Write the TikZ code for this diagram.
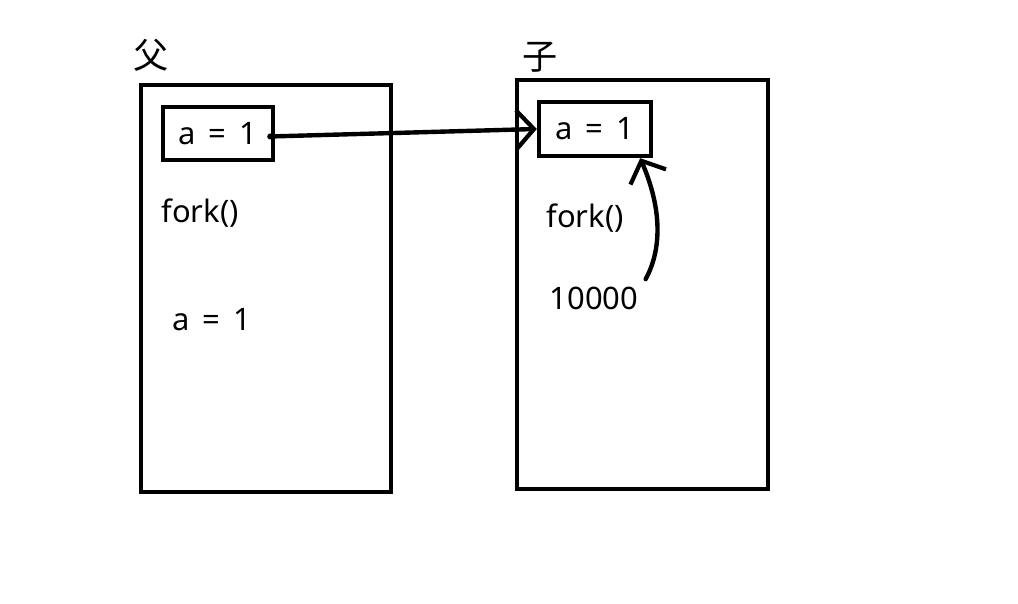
\documentclass[tikz,border=0pt]{standalone}
\usepackage{fontspec}
\setmainfont{Noto Sans}
\newfontfamily\cjk{Noto Sans CJK SC}
\usetikzlibrary{arrows.meta, positioning}

\newcommand{\eqsp}{\hspace{0.42em}}

\begin{document}
\begin{tikzpicture}[
    every node/.style={font=\fontsize{8.8pt}{10pt}\selectfont},
    proc/.style={rectangle, draw=black, line width=1.25pt, minimum width=2.5cm, minimum height=4.07cm, inner sep=0pt},
    var/.style={rectangle, draw=black, line width=1.25pt, minimum width=1.1cm, minimum height=0.53cm, inner sep=0pt},
    arrow/.style={-{Straight Barb[length=5pt, width=11pt, line width=1.2pt]}, line width=1.25pt, line cap=round}
]
\useasboundingbox (0,0) rectangle (10.18,6.04);

% parent
\node[proc] (parent) at (2.66,3.155) {};
\node[var] (pa) at (2.18,4.705) {a\eqsp=\eqsp1};
\node (pfork) at (2.00,3.91) {fork()};
\node (pa2) at (2.12,2.84) {a\eqsp=\eqsp1};
\node[font=\cjk\fontsize{10pt}{12pt}\selectfont] (ptitle) at (1.51,5.49) {父};

% child
\node[proc, minimum width=2.51cm, minimum height=4.09cm] (child) at (6.425,3.195) {};
\node[var, minimum width=1.12cm, minimum height=0.54cm] (ca) at (5.95,4.75) {a\eqsp=\eqsp1};
\node (cfork) at (5.85,3.86) {fork()};
\node (cnum) at (5.94,3.06) {10000};
\node[font=\cjk\fontsize{10pt}{12pt}\selectfont] (ctitle) at (5.40,5.47) {子};

\coordinate (start) at ([xshift=-0.05cm, yshift=-0.03cm]pa.east);
\coordinate (hit) at ([xshift=-0.13cm]ca.south east);

\fill (start) circle (0.03);
\draw[arrow] (start) -- (ca.west);
\draw[arrow] ([xshift=-0.05cm, yshift=-0.05cm]cnum.north east) .. controls (6.62,3.55) and (6.62,3.95) .. (hit);

\end{tikzpicture}
\end{document}
